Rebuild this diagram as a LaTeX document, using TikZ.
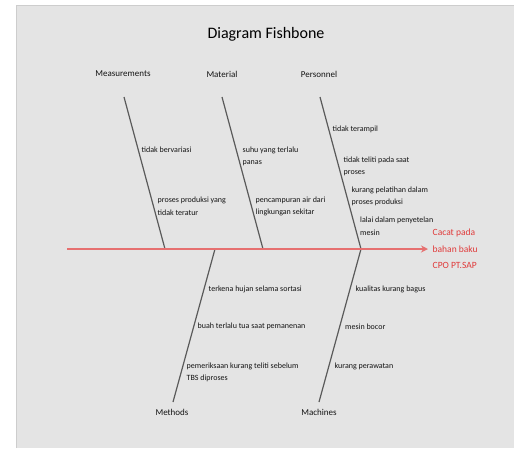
\documentclass[tikz,border=0pt]{standalone}
\usepackage{fontspec}
\setmainfont{Carlito}
\usetikzlibrary{positioning,arrows.meta}

\definecolor{bggray}{RGB}{228,228,228}
\definecolor{edgegray}{RGB}{205,205,205}
\definecolor{bonegray}{RGB}{90,90,90}
\definecolor{txtgray}{RGB}{20,20,20}
\definecolor{spinered}{RGB}{230,112,112}
\definecolor{effectred}{RGB}{224,58,58}

\tikzset{
  cause/.style={anchor=west, align=left, inner sep=0pt, text=txtgray,
    font=\fontsize{8}{12.7}\selectfont},
  category/.style={inner sep=0pt, text=txtgray, font=\fontsize{9}{11}\selectfont},
  bone/.style={draw=bonegray, line width=1.2pt},
  spine/.style={draw=spinered, line width=2.6pt, -{Stealth[length=7pt,width=7pt]}}
}

\begin{document}
\begin{tikzpicture}[x=1pt, y=-1pt]
\useasboundingbox (0,0) rectangle (514,448);
\fill[bggray] (16,5) rectangle (514,448);
\draw[edgegray, line width=0.8pt] (16.4,448) -- (16.4,5.4) -- (514,5.4);

% title
\node[text=black, font=\fontsize{16}{18}\selectfont, inner sep=0pt] (title) at (266,34) {Diagram Fishbone};

% categories
\node[category] (meas) at (123,74) {Measurements};
\node[category] (mat) at (222,74) {Material};
\node[category] (pers) at (319,74) {Personnel};
\node[category] (meth) at (172,412) {Methods};
\node[category] (mach) at (319,412) {Machines};

% effect
\node[anchor=west, align=left, inner sep=0pt, text=effectred,
  font=\fontsize{9.5}{16.5}\selectfont] (effect) at (432.5,249) {Cacat pada\\bahan baku\\CPO PT.SAP};

% bone ends
\coordinate (tail) at (67,249);
\coordinate (measT) at (124,97);   \coordinate (measB) at (165,249);
\coordinate (matT) at (222,97);    \coordinate (matB) at (263,249);
\coordinate (persT) at (320,97);   \coordinate (persB) at (361,249);
\coordinate (methT) at (215,249);  \coordinate (methB) at (173,402);
\coordinate (machT) at (361,249);  \coordinate (machB) at (319,402);

% causes: measurements
\node[cause] (m1) at (141.5,149.5) {tidak bervariasi};
\node[cause] (m2) at (157.5,206.5) {proses produksi yang\\tidak teratur};
% causes: material
\node[cause] (t1) at (242.5,156.5) {suhu yang terlalu\\panas};
\node[cause] (t2) at (255.5,206.5) {pencampuran air dari\\lingkungan sekitar};
% causes: personnel
\node[cause] (p1) at (332.5,129.5) {tidak terampil};
\node[cause] (p2) at (343.5,166.5) {tidak teliti pada saat\\proses};
\node[cause] (p3) at (351.5,196.5) {kurang pelatihan dalam\\proses produksi};
\node[cause] (p4) at (360,226.5) {lalai dalam penyetelan\\mesin};
% causes: methods
\node[cause] (d1) at (208.5,289) {terkena hujan selama sortasi};
\node[cause] (d2) at (197.5,326.5) {buah terlalu tua saat pemanenan};
\node[cause] (d3) at (186.5,372.5) {pemeriksaan kurang teliti sebelum\\TBS diproses};
% causes: machines
\node[cause] (c1) at (355.5,289) {kualitas kurang bagus};
\node[cause] (c2) at (345,326.5) {mesin bocor};
\node[cause] (c3) at (334.5,366) {kurang perawatan};

\draw[bone] (measT) -- (measB);
\draw[bone] (matT) -- (matB);
\draw[bone] (persT) -- (persB);
\draw[bone] (methT) -- (methB);
\draw[bone] (machT) -- (machB);
\draw[spine, shorten >=4.5pt] (tail) -- (effect.west);
\end{tikzpicture}
\end{document}
